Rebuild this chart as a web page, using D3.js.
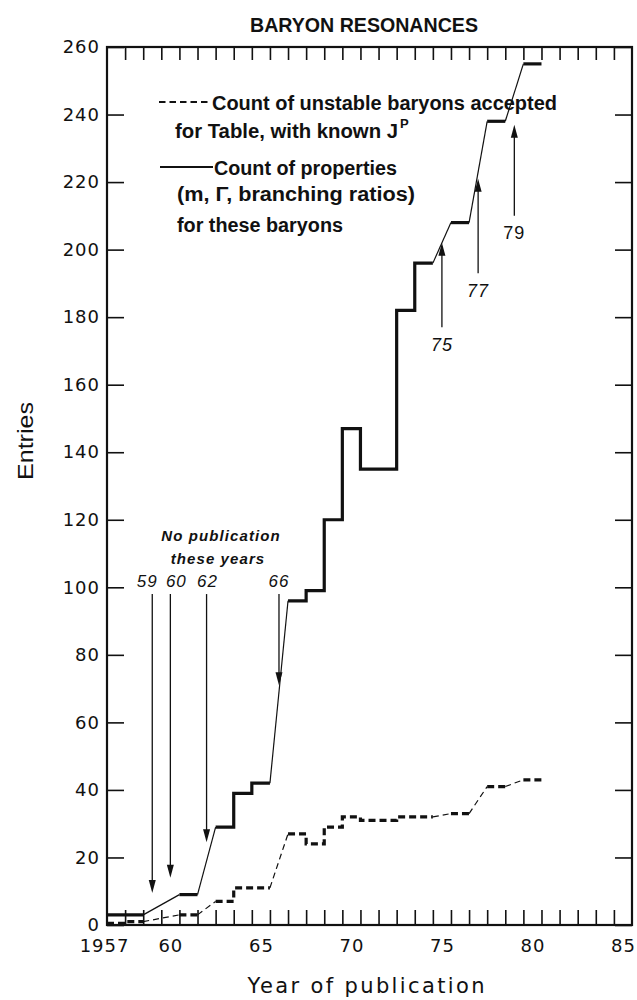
<!DOCTYPE html>
<html>
<head>
<meta charset="utf-8">
<script src="https://cdn.jsdelivr.net/npm/d3@7"></script>
<style>
  html, body { margin: 0; padding: 0; background: #fff; }
  svg { display: block; }
</style>
</head>
<body>
<svg id="chart" width="637" height="1000"></svg>
<script>
// ---------------- DATA ----------------
const pubYears   = [1957, 1958, 1961, 1963, 1964, 1965, 1967, 1968, 1969, 1970, 1971, 1972, 1973, 1974, 1976, 1978, 1980];
const properties = [3,    3,    9,    29,   39,   42,   96,   99,   120,  147,  135,  135,  182,  196,  208,  238,  255];
const baryons    = [0.5,  1,    3,    7,    11,   11,   27,   24,   29,   32,   31,   31,   32,   32,   33,   41,   43];

const yTicks = [0, 20, 40, 60, 80, 100, 120, 140, 160, 180, 200, 220, 240, 260];
const xLabelYears = [1957, 1960, 1965, 1970, 1975, 1980, 1985];
const xLabels = ["1957", "60", "65", "70", "75", "80", "85"];
const yearBoundaries = d3.range(1957.5, 1985.5, 1);

// "no publication" arrows (pointing down)
const gapYears = [1959, 1960, 1962, 1966];
const gapLabels = ["59", "60", "62", "66"];
const gapArrowTop = [98, 98, 98, 98];
const gapArrowTip = [9.5, 14, 24.5, 71];

// later arrows (pointing up)
const upYears = [1975, 1977, 1979];
const upLabels = ["75", "77", "79"];
const upArrowBottom = [177, 193, 210];
const upArrowTip = [202, 221, 237];
const upLabelValue = [170, 186, 203];

// ---------------- SETUP ----------------
const svg = d3.select("#chart");
const x = d3.scaleLinear().domain([1956.5, 1985.5]).range([107, 632]);
const y = d3.scaleLinear().domain([0, 260]).range([925, 47]);

const ink = "#111";
const labelFont = "'DejaVu Sans', sans-serif";
const narrow = "'Liberation Sans Narrow', 'Liberation Sans', Arial, sans-serif";

// ---------------- AXES ----------------
const gBottom = svg.append("g").attr("transform", `translate(0,${y(0)})`)
  .call(d3.axisBottom(x).tickValues(yearBoundaries).tickSize(-15).tickFormat(""));
const gTop = svg.append("g").attr("transform", `translate(0,${y(260)})`)
  .call(d3.axisTop(x).tickValues(yearBoundaries).tickSize(-13).tickFormat(""));
const gLeft = svg.append("g").attr("transform", `translate(${x(1956.5)},0)`)
  .call(d3.axisLeft(y).tickValues(yTicks).tickSize(-17).tickPadding(7));
const gRight = svg.append("g").attr("transform", `translate(${x(1985.5)},0)`)
  .call(d3.axisRight(y).tickValues(yTicks).tickSize(-17).tickFormat(""));

[gBottom, gTop, gLeft, gRight].forEach(g => {
  g.select(".domain").remove();
  g.selectAll(".tick line").attr("stroke", ink).attr("stroke-width", 1.6);
});
gLeft.selectAll(".tick text")
  .attr("font-family", labelFont).attr("font-size", 18)
  .attr("letter-spacing", 1).attr("fill", ink);

const gXLab = svg.append("g").attr("transform", `translate(0,${y(0)})`)
  .call(d3.axisBottom(x).tickValues(xLabelYears).tickSize(0).tickPadding(14)
    .tickFormat((d, i) => xLabels[i]));
gXLab.select(".domain").remove();
gXLab.selectAll(".tick text")
  .attr("font-family", labelFont).attr("font-size", 18)
  .attr("letter-spacing", 1).attr("fill", ink)
  .attr("dx", (d, i) => i === 0 ? -12 : 0);

// frame
svg.append("rect")
  .attr("x", x(1956.5)).attr("y", y(260))
  .attr("width", x(1985.5) - x(1956.5)).attr("height", y(0) - y(260))
  .attr("fill", "none").attr("stroke", ink).attr("stroke-width", 2.2);

// ---------------- SERIES ----------------
function buildPieces(years, vals) {
  const runs = [];
  const gaps = [];
  let cur = null;
  years.forEach((yr, i) => {
    if (!cur) { cur = [[yr - 0.5, vals[i]], [yr + 0.5, vals[i]]]; }
    else {
      cur.push([yr - 0.5, vals[i]]);
      cur.push([yr + 0.5, vals[i]]);
    }
    if (i < years.length - 1 && years[i + 1] !== yr + 1) {
      runs.push(cur); cur = null;
      gaps.push([[yr + 0.5, vals[i]], [years[i + 1] - 0.5, vals[i + 1]]]);
    }
  });
  if (cur) runs.push(cur);
  return { runs, gaps };
}

const line = d3.line().x(d => x(d[0])).y(d => y(d[1]));

function drawSeries(years, vals, dashed) {
  const { runs, gaps } = buildPieces(years, vals);
  const g = svg.append("g").attr("fill", "none").attr("stroke", ink);
  g.selectAll("path.gap").data(gaps).join("path").attr("class", "gap")
    .attr("d", line).attr("stroke-width", 1.2)
    .attr("stroke-dasharray", dashed ? "6,4" : null);
  g.selectAll("path.run").data(runs).join("path").attr("class", "run")
    .attr("d", line).attr("stroke-width", 3.2)
    .attr("stroke-linejoin", "miter")
    .attr("stroke-dasharray", dashed ? "7,4" : null);
}

drawSeries(pubYears, baryons, true);
drawSeries(pubYears, properties, false);

// ---------------- ARROWS ----------------
function arrow(xv, fromV, toV) {
  const x0 = x(xv), y0 = y(fromV), y1 = y(toV);
  const dir = y1 > y0 ? 1 : -1;
  svg.append("line").attr("x1", x0).attr("x2", x0).attr("y1", y0).attr("y2", y1 - dir * 8)
    .attr("stroke", ink).attr("stroke-width", 1.3);
  svg.append("path")
    .attr("d", `M${x0},${y1} L${x0 - 3.5},${y1 - dir * 13} L${x0 + 3.5},${y1 - dir * 13} Z`)
    .attr("fill", ink);
}

const gapLabelShift = [-5, 6, 1, 0];
gapYears.forEach((yr, i) => arrow(yr, gapArrowTop[i], gapArrowTip[i]));
svg.selectAll("text.gaplab").data(gapYears).join("text").attr("class", "gaplab")
  .attr("x", (d, i) => x(d) + gapLabelShift[i]).attr("y", y(gapArrowTop[0]) - 7)
  .attr("text-anchor", "middle")
  .attr("font-family", "'Liberation Sans', Arial, sans-serif")
  .attr("font-style", "italic").attr("font-size", 17).attr("letter-spacing", 1)
  .attr("fill", ink)
  .text((d, i) => gapLabels[i]);

svg.append("text").attr("x", 221).attr("y", 541).attr("text-anchor", "middle")
  .attr("font-family", "'Liberation Sans', Arial, sans-serif")
  .attr("font-style", "italic").attr("font-weight", "bold")
  .attr("font-size", 15).attr("letter-spacing", 1.1).attr("fill", ink)
  .text("No publication");
svg.append("text").attr("x", 218).attr("y", 564).attr("text-anchor", "middle")
  .attr("font-family", "'Liberation Sans', Arial, sans-serif")
  .attr("font-style", "italic").attr("font-weight", "bold")
  .attr("font-size", 15).attr("letter-spacing", 1.1).attr("fill", ink)
  .text("these years");

upYears.forEach((yr, i) => arrow(yr, upArrowBottom[i], upArrowTip[i]));
svg.selectAll("text.uplab").data(upYears).join("text").attr("class", "uplab")
  .attr("x", d => x(d)).attr("y", (d, i) => y(upLabelValue[i]))
  .attr("text-anchor", "middle")
  .attr("font-family", "'Liberation Sans', Arial, sans-serif")
  .attr("font-style", (d, i) => i === 2 ? "normal" : "italic")
  .attr("font-size", 18).attr("letter-spacing", 1)
  .attr("fill", ink)
  .text((d, i) => upLabels[i]);

// ---------------- LEGEND ----------------
const leg = svg.append("g");
leg.append("line").attr("x1", 159).attr("x2", 210).attr("y1", 102).attr("y2", 102)
  .attr("stroke", ink).attr("stroke-width", 2).attr("stroke-dasharray", "6.5,4");
leg.append("line").attr("x1", 160).attr("x2", 213).attr("y1", 167).attr("y2", 167)
  .attr("stroke", ink).attr("stroke-width", 2);

function legText(xp, yp, txt, len) {
  return leg.append("text").attr("x", xp).attr("y", yp)
    .attr("font-family", narrow).attr("font-weight", "bold")
    .attr("font-size", 20).attr("fill", ink)
    .attr("textLength", len).attr("lengthAdjust", "spacingAndGlyphs")
    .text(txt);
}
legText(212, 110, "Count of unstable baryons accepted", 345);
legText(175, 138, "for Table, with known J", 223);
leg.append("text").attr("x", 400).attr("y", 128)
  .attr("font-family", narrow).attr("font-weight", "bold")
  .attr("font-size", 13).attr("fill", ink).text("P");
legText(214, 175, "Count of properties", 183);
legText(177, 201, "(m, \u0393, branching  ratios)", 238);
legText(177, 232, "for these baryons", 166);

// ---------------- TITLES ----------------
svg.append("text").attr("x", 364).attr("y", 32).attr("text-anchor", "middle")
  .attr("font-family", narrow).attr("font-weight", "bold")
  .attr("font-size", 20).attr("fill", ink)
  .attr("textLength", 228).attr("lengthAdjust", "spacingAndGlyphs")
  .text("BARYON RESONANCES");

svg.append("text").attr("transform", "translate(33,441) rotate(-90)")
  .attr("text-anchor", "middle")
  .attr("font-family", narrow)
  .attr("font-size", 22).attr("fill", ink)
  .attr("textLength", 78).attr("lengthAdjust", "spacingAndGlyphs")
  .text("Entries");

svg.append("text").attr("x", 366).attr("y", 993).attr("text-anchor", "middle")
  .attr("font-family", labelFont)
  .attr("font-size", 21).attr("fill", ink)
  .attr("textLength", 237).attr("lengthAdjust", "spacing")
  .text("Year of publication");
</script>
</body>
</html>
